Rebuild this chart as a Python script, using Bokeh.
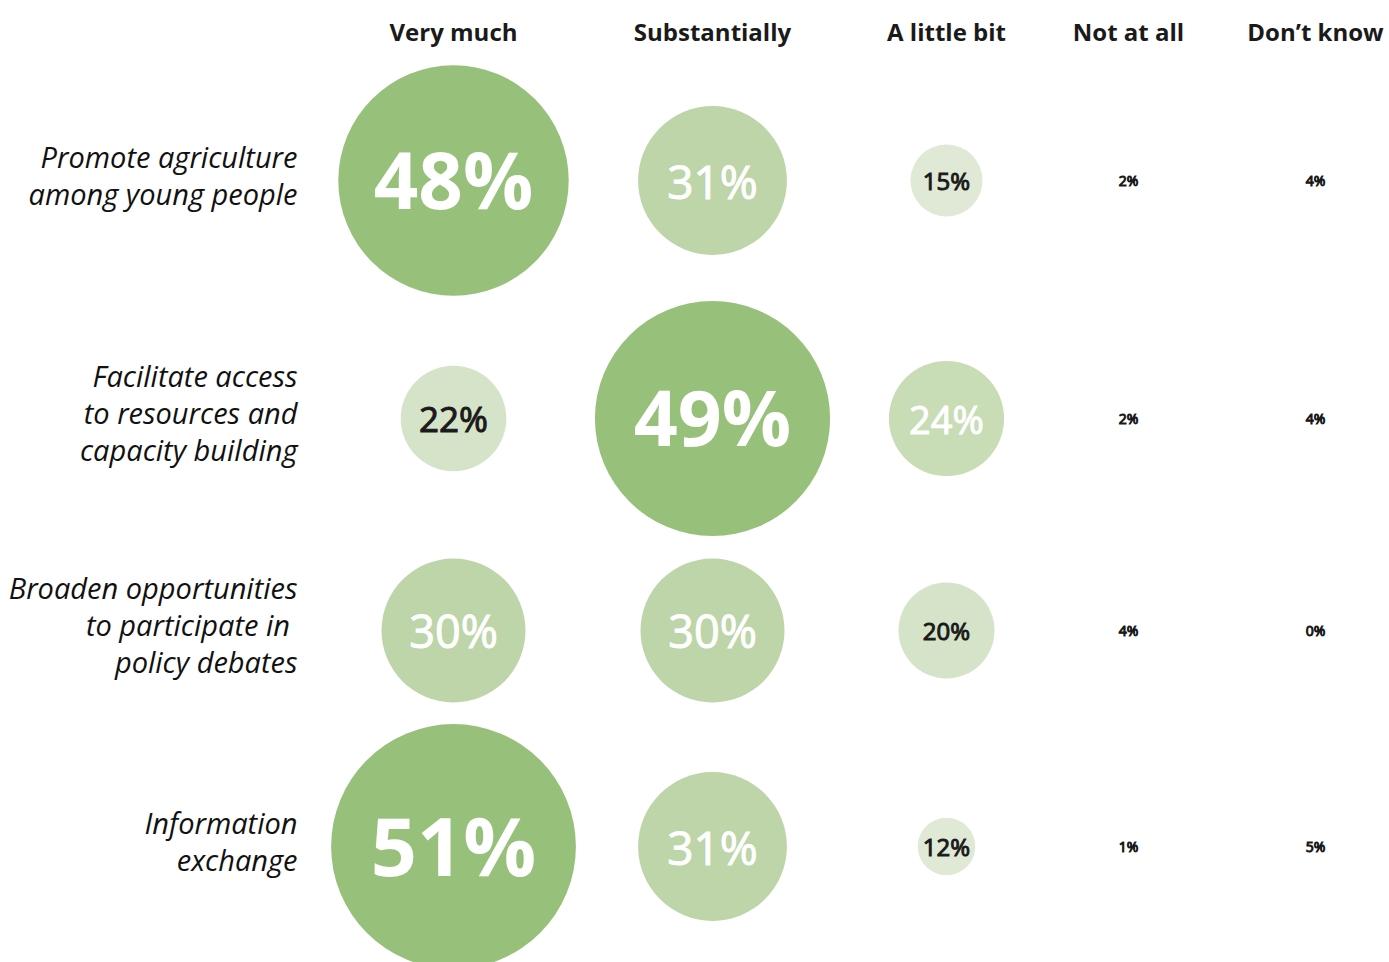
from bokeh.plotting import figure
from bokeh.models import Range1d, ColumnDataSource
from bokeh.core.properties import value
from bokeh.embed import file_html
from bokeh.resources import INLINE

# ---- data ----
rows = [
    "Promote agriculture\namong young people",
    "Facilitate access\nto resources and\ncapacity building",
    "Broaden opportunities\nto  participate in\npolicy debates",
    "Information\nexchange",
]
columns = ["Very much", "Substantially", "A little bit", "Not at all", "Don\u2019t know"]
very_much = [48, 22, 30, 51]
substantially = [31, 49, 30, 31]
a_little_bit = [15, 24, 20, 12]
not_at_all = [2, 2, 4, 1]
dont_know = [4, 4, 0, 5]
series = [very_much, substantially, a_little_bit, not_at_all, dont_know]

# ---- layout / style (pixels) ----
W, H = 1389, 962
col_x = [453, 712, 946, 1128, 1315]
row_y = [180, 418, 630, 846]
label_right = 297
line_h = 37
FONT = "Open Sans"
label_size = {51: 81, 49: 77, 48: 78, 31: 46, 30: 45, 24: 38, 22: 35, 20: 24, 15: 24, 12: 24}


def fill_for(v):
    if v >= 45:
        return "#97c07a"
    if v >= 28:
        return "#bdd5a8"
    if v >= 24:
        return "#c8dcb6"
    if v >= 18:
        return "#d5e3c8"
    return "#dfe9d5"


def text_color(v):
    return "#ffffff" if v >= 24 else "#1a1a1a"


def font_size(v):
    return label_size.get(v, 14)


p = figure(width=W, height=H, x_range=Range1d(0, W), y_range=Range1d(H, 0),
           x_axis_type=None, y_axis_type=None, toolbar_location=None,
           output_backend="svg", min_border=0, outline_line_color=None,
           background_fill_color="white", border_fill_color="white")
p.grid.visible = False

cx, cy, cr, cf = [], [], [], []
big = dict(x=[], y=[], t=[], c=[], s=[])
small = dict(x=[], y=[], t=[], c=[], s=[])
for ci, vals in enumerate(series):
    for ri, v in enumerate(vals):
        if v >= 10:
            cx.append(col_x[ci]); cy.append(row_y[ri]); cr.append(2.4 * v); cf.append(fill_for(v))
        d = big if v >= 45 else small
        d["x"].append(col_x[ci]); d["y"].append(row_y[ri] - (2 if v >= 45 else 0))
        d["t"].append(f"{v}%"); d["c"].append(text_color(v)); d["s"].append(f"{font_size(v)}px")

p.circle(x="x", y="y", radius="r", fill_color="c", line_color=None,
         source=ColumnDataSource(dict(x=cx, y=cy, r=cr, c=cf)))
p.text(x="x", y="y", text="t", text_color="c", text_font_size="s",
       text_font=value(FONT), text_font_style="bold", text_align="center",
       text_baseline="middle", source=ColumnDataSource(big))
p.text(x="x", y="y", text="t", text_color="c", text_outline_color="c",
       text_font_size="s", text_font=value(FONT), text_font_style="normal",
       text_align="center", text_baseline="middle", source=ColumnDataSource(small))

# column headers
p.text(x=col_x, y=[31] * len(columns), text=columns, text_font=value(FONT),
       text_font_style="bold", text_font_size="24px", text_color="#1a1a1a",
       text_align="center", text_baseline="middle")

# row labels
lx, ly, lt = [], [], []
for ri, lab in enumerate(rows):
    lines = lab.split("\n")
    n = len(lines)
    for i, line in enumerate(lines):
        lx.append(label_right)
        ly.append(row_y[ri] - 6 + (i - (n - 1) / 2) * line_h)
        lt.append(line)
p.text(x=lx, y=ly, text=lt, text_font=value(FONT), text_font_style="italic",
       text_font_size="29px", text_color="#111111", text_align="right",
       text_baseline="middle")

open("out.html", "w").write(file_html(p, INLINE))
